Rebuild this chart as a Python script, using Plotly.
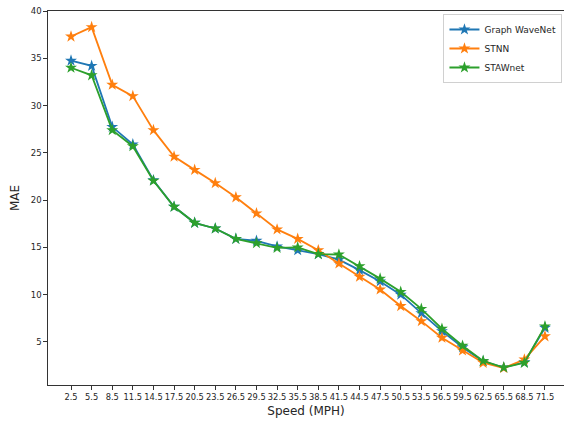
import plotly.graph_objects as go

speeds = [2.5, 5.5, 8.5, 11.5, 14.5, 17.5, 20.5, 23.5, 26.5, 29.5, 32.5, 35.5,
          38.5, 41.5, 44.5, 47.5, 50.5, 53.5, 56.5, 59.5, 62.5, 65.5, 68.5, 71.5]
tick_labels = [str(s) for s in speeds]

graph_wavenet = [34.75, 34.2, 27.75, 25.9, 22.1, 19.3, 17.6, 17.0, 15.9, 15.7, 15.1, 14.7,
                 14.3, 13.7, 12.6, 11.4, 10.0, 8.05, 6.15, 4.45, 2.95, 2.3, 2.85, 6.5]
stnn = [37.3, 38.3, 32.2, 31.0, 27.4, 24.6, 23.2, 21.8, 20.3, 18.6, 16.9, 15.9,
        14.7, 13.3, 11.9, 10.55, 8.8, 7.2, 5.45, 4.1, 2.8, 2.25, 3.15, 5.6]
stawnet = [34.0, 33.2, 27.4, 25.7, 22.05, 19.3, 17.6, 17.0, 15.9, 15.45, 14.95, 15.0,
           14.3, 14.25, 13.0, 11.7, 10.3, 8.5, 6.4, 4.6, 3.0, 2.3, 2.8, 6.65]

series = [("Graph WaveNet", graph_wavenet, "#1f77b4"),
          ("STNN", stnn, "#ff7f0e"),
          ("STAWnet", stawnet, "#2ca02c")]

fig = go.Figure()
for name, vals, color in series:
    fig.add_trace(go.Scatter(
        x=speeds, y=vals, name=name, mode="lines+markers",
        line=dict(color=color, width=1.8),
        marker=dict(symbol="star", size=9, color=color, line=dict(width=0)),
    ))

fig.update_layout(
    width=564, height=421,
    margin=dict(l=48, r=0, t=11, b=36, autoexpand=False),
    paper_bgcolor="white", plot_bgcolor="white",
    font=dict(family="DejaVu Sans", color="#262626"),
    showlegend=True,
    legend=dict(x=0.997, y=0.992, xanchor="right", yanchor="top",
                bgcolor="rgba(255,255,255,0.8)", bordercolor="#d0d0d0", borderwidth=1,
                font=dict(family="DejaVu Sans", size=9, color="#262626"),
                itemwidth=30, tracegroupgap=0),
    xaxis=dict(
        range=[-0.85, 74.27], tickmode="array", tickvals=speeds, ticktext=tick_labels,
        tickangle=0, automargin=False,
        showgrid=False, zeroline=False, showline=True, linecolor="#333333", linewidth=1.2,
        mirror=True, ticks="outside", ticklen=3.5, tickcolor="#333333", tickwidth=1,
        tickfont=dict(family="DejaVu Sans", size=8.3, color="#262626"),
        title=dict(text="Speed (MPH)", font=dict(family="DejaVu Sans", size=12, color="#262626"),
                   standoff=6),
    ),
    yaxis=dict(
        range=[0.45, 40], tickmode="array", tickvals=[5, 10, 15, 20, 25, 30, 35, 40],
        automargin=False,
        showgrid=False, zeroline=False, showline=True, linecolor="#333333", linewidth=1.2,
        mirror=False, ticks="outside", ticklen=3.5, tickcolor="#333333", tickwidth=1,
        tickfont=dict(family="DejaVu Sans", size=8.5, color="#262626"),
        title=dict(text="MAE", font=dict(family="DejaVu Sans", size=12, color="#262626"),
                   standoff=8),
    ),
)

fig.write_html("out.html")
